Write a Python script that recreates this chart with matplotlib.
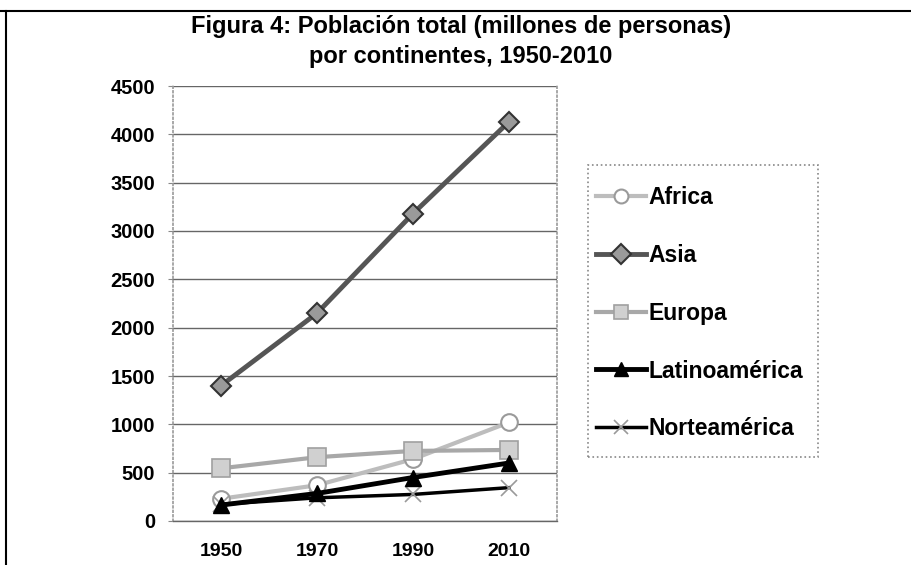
import matplotlib
matplotlib.use("Agg")
import matplotlib.pyplot as plt
from matplotlib.lines import Line2D
from matplotlib.patches import Rectangle

years = ["1950", "1970", "1990", "2010"]
africa = [230, 370, 640, 1020]
asia = [1400, 2150, 3180, 4130]
europa = [545, 660, 725, 735]
latinoamerica = [165, 285, 450, 600]
norteamerica = [172, 240, 275, 345]
yticks = [0, 500, 1000, 1500, 2000, 2500, 3000, 3500, 4000, 4500]
title_lines = ["Figura 4: Población total (millones de personas)", "por continentes, 1950-2010"]

FAM = ["Liberation Sans", "DejaVu Sans"]
W, H = 911, 565
fig = plt.figure(figsize=(W / 100, H / 100), dpi=100)
fig.patch.set_facecolor("white")

ax = fig.add_axes([173 / W, 1 - 521 / H, (557 - 173) / W, (521 - 86) / H])
x = list(range(len(years)))

ax.plot(x, africa, color="#bdbdbd", lw=3, marker="o", ms=12, mfc="white",
        mec="#9a9a9a", mew=1.5, label="Africa", zorder=3)
ax.plot(x, asia, color="#555555", lw=3.5, marker="D", ms=10, mfc="#9a9a9a",
        mec="#333333", mew=1.5, label="Asia", zorder=3)
ax.plot(x, europa, color="#a8a8a8", lw=3, marker="s", ms=13, mfc="#d0d0d0",
        mec="#a0a0a0", mew=1.2, label="Europa", zorder=3)
ax.plot(x, latinoamerica, color="black", lw=3.5, marker="^", ms=12, mfc="black",
        mec="black", label="Latinoamérica", zorder=4)
ax.plot(x, norteamerica, color="black", lw=2.5, marker="x", ms=12, mec="#9a9a9a",
        mew=1.2, label="Norteamérica", zorder=3)

ax.set_xlim(-0.5, 3.5)
ax.set_ylim(0, 4500)
ax.set_yticks(yticks)
ax.set_xticks(x)
ax.set_xticklabels(years)
ax.yaxis.grid(True, color="#666666", lw=1.0)
ax.set_axisbelow(True)
for side in ["left", "right"]:
    ax.spines[side].set_color("#9a9a9a")
    ax.spines[side].set_linestyle(":")
    ax.spines[side].set_linewidth(1.2)
ax.spines["top"].set_visible(False)
ax.spines["bottom"].set_color("#666666")
ax.spines["bottom"].set_linewidth(1.0)
ax.tick_params(axis="y", length=3.6, color="#888888", pad=9.4)
ax.tick_params(axis="x", length=0, pad=16)
for lab in ax.get_yticklabels():
    lab.set_fontfamily(FAM)
    lab.set_fontweight("bold")
    lab.set_fontsize(14.5)
for lab in ax.get_xticklabels():
    lab.set_fontfamily(FAM)
    lab.set_fontweight("bold")
    lab.set_fontsize(14)

# legend frame drawn separately
fig.add_artist(Rectangle((588 / W, 1 - 457 / H), (818 - 588) / W, (457 - 165) / H,
                         transform=fig.transFigure, fill=False, edgecolor="#888888",
                         linestyle=":", lw=1.2))
leg = fig.legend(loc="upper left", bbox_to_anchor=(596 / W, 1 - 186 / H),
                 prop={"family": FAM, "weight": "bold", "size": 16.5},
                 frameon=False, handlelength=2.2, handletextpad=0.08,
                 labelspacing=1.52, borderpad=0, borderaxespad=0)
for h in leg.legend_handles:
    h.set_markersize(10)

fig.text(461 / W, 1 - 33 / H, title_lines[0], ha="center", va="baseline",
         family=FAM, weight="bold", fontsize=17)
fig.text(461 / W, 1 - 63 / H, title_lines[1], ha="center", va="baseline",
         family=FAM, weight="bold", fontsize=17)

fig.add_artist(Line2D([0, 1], [1 - 10.5 / H, 1 - 10.5 / H], transform=fig.transFigure,
                      color="black", lw=1.5))
fig.add_artist(Line2D([6 / W, 6 / W], [0, 1 - 10.5 / H], transform=fig.transFigure,
                      color="black", lw=1.5))

fig.savefig("out.png", dpi=100)
